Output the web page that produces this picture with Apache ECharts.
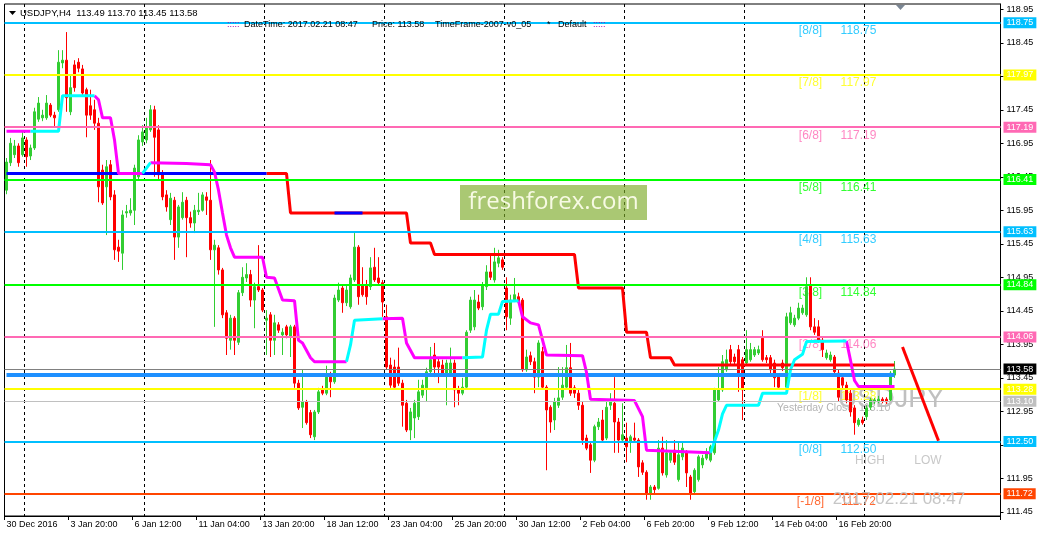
<!DOCTYPE html>
<html><head><meta charset="utf-8">
<script src="https://cdn.jsdelivr.net/npm/echarts@6/dist/echarts.min.js"></script>
<style>html,body{margin:0;padding:0;background:#fff}#c{width:1043px;height:539px}</style>
</head><body><div id="c"></div>
<script>
// ---- data (USDJPY H4) ----
const open = [116.25,116.66,116.78,116.91,116.78,117.00,116.76,116.88,117.31,117.33,
117.33,117.52,117.37,117.45,118.15,118.19,117.42,118.12,118.16,118.06,
117.75,117.51,117.45,117.25,116.55,116.30,116.63,116.18,115.40,115.31,
115.91,115.91,115.95,116.45,116.97,117.00,117.15,117.45,117.15,116.48,
116.18,115.81,116.10,115.55,115.84,116.10,115.84,115.76,115.93,115.95,
116.15,116.10,115.36,115.39,115.06,114.42,114.01,114.34,113.98,114.72,
114.94,114.99,114.61,114.81,114.76,114.31,114.39,114.01,114.24,114.09,
114.21,114.06,114.21,113.37,113.01,113.09,112.93,112.57,112.94,113.28,
113.22,113.46,113.39,114.61,114.79,114.57,114.51,114.91,115.40,114.84,
114.84,114.81,115.10,114.94,114.87,114.36,113.64,113.61,113.61,113.37,
113.07,112.67,112.85,112.87,113.19,113.30,113.54,113.79,113.69,113.64,
113.52,113.52,113.67,113.27,113.22,113.31,114.16,114.21,114.58,114.51,
114.81,115.03,114.91,115.16,115.21,114.79,114.34,114.61,114.66,114.61,
113.57,113.78,113.69,113.46,113.84,113.31,113.01,112.82,113.04,113.16,
113.31,113.60,113.30,113.22,113.04,112.55,112.45,112.22,112.72,112.82,
112.55,113.04,113.07,112.79,112.52,112.55,112.49,112.55,112.52,112.18,
112.04,111.73,111.82,111.80,112.40,112.00,112.22,112.37,111.93,112.27,
112.33,111.97,111.75,111.93,112.15,112.25,112.22,112.33,113.12,113.27,
113.57,113.87,113.76,113.87,113.72,113.67,113.72,113.79,113.82,114.04,
113.75,113.75,113.67,113.46,113.67,113.31,114.27,114.24,114.34,114.42,
114.39,114.84,114.21,114.21,114.01,113.75,113.72,113.76,113.52,113.45,
113.34,113.22,113.00,112.75,112.82,112.87,113.01,113.09,113.10,113.13,
113.13,113.12,113.49];
const close = [116.67,116.95,116.91,116.66,117.03,116.75,116.88,117.42,117.55,117.37,
117.55,117.37,117.33,118.16,118.19,117.63,117.78,117.78,118.07,117.70,
117.37,117.37,117.25,116.30,116.06,116.60,116.15,115.36,115.34,115.88,
115.93,115.95,116.58,117.00,117.12,117.18,117.45,117.04,116.48,116.15,
116.00,116.13,115.55,116.00,116.07,115.84,115.76,115.95,115.95,116.18,
116.10,115.36,115.43,115.06,114.39,114.04,114.34,114.01,114.72,114.95,
114.99,114.61,114.81,114.76,114.46,114.34,114.01,114.27,114.16,114.13,
114.09,114.21,113.37,113.00,113.09,112.78,112.60,112.94,113.24,113.22,
113.46,113.39,114.64,114.76,114.57,114.76,114.94,115.40,114.66,114.69,
114.66,115.09,114.91,114.87,114.58,113.61,113.34,113.31,113.37,113.04,
112.67,112.94,113.07,113.24,113.34,113.54,113.72,113.61,113.61,113.52,
113.67,113.67,113.27,113.22,113.31,114.13,114.61,114.61,114.49,114.84,
115.03,114.95,115.18,115.24,115.10,114.36,114.61,114.69,114.58,113.57,
113.76,113.69,113.46,113.97,113.31,112.97,112.79,113.09,113.15,113.34,
113.60,113.22,113.22,113.04,112.52,112.40,112.22,112.72,112.79,112.52,
113.01,113.12,112.79,112.52,112.60,112.42,112.57,112.52,112.12,112.04,
111.73,111.82,111.78,112.40,112.03,112.33,112.33,112.19,112.30,112.40,
112.03,111.73,112.07,112.27,112.25,112.34,112.42,113.27,113.27,113.69,
113.72,113.69,113.69,113.49,113.27,113.87,113.87,113.87,113.87,113.72,
113.72,113.57,113.45,113.31,113.60,114.36,114.42,114.34,114.49,114.49,
114.81,114.21,114.13,114.01,113.87,113.82,113.79,113.54,113.16,113.34,
113.12,112.94,112.78,112.82,112.78,113.00,113.12,113.12,113.13,113.10,
113.09,113.52,113.58];
const high = [116.73,117.03,117.00,116.95,117.12,117.04,116.93,117.48,117.64,117.45,
117.67,117.55,117.42,118.34,118.34,118.61,117.97,118.19,118.22,118.12,
117.78,117.75,117.60,117.33,116.63,116.70,116.70,116.25,115.51,115.95,
116.03,116.13,116.63,117.07,117.22,117.33,117.52,117.51,117.22,116.55,
116.25,116.21,116.15,116.03,116.22,116.15,115.93,116.03,116.21,116.22,
116.22,116.70,115.51,115.43,115.09,114.46,114.39,114.37,114.76,115.10,
115.16,115.06,114.87,115.43,114.79,114.46,114.43,114.39,114.28,114.19,
114.24,114.24,114.24,113.42,113.57,113.12,112.97,112.97,113.30,113.33,
113.63,113.54,114.69,114.87,114.84,114.84,114.99,115.61,115.43,115.10,
114.91,115.25,115.39,115.25,114.91,114.54,113.75,113.72,113.90,113.42,
113.12,113.00,113.12,113.42,113.42,113.60,113.91,113.97,113.75,113.72,
113.72,113.90,113.72,113.33,113.45,114.16,114.66,114.76,114.69,114.88,
115.13,115.28,115.39,115.36,115.25,114.95,114.69,114.94,114.72,114.64,
113.87,113.84,113.75,114.01,113.91,113.34,113.04,113.15,113.61,113.61,
113.94,113.97,113.34,113.27,113.09,112.60,112.49,112.75,112.85,112.97,
113.12,113.22,113.46,112.85,113.07,112.78,112.60,112.78,112.55,112.22,
112.07,111.85,111.85,112.52,112.57,112.52,112.37,112.52,112.49,112.49,
112.37,112.00,112.10,112.30,112.30,112.40,112.45,113.30,113.61,113.79,
113.87,113.94,113.81,113.94,113.76,114.16,113.97,113.91,113.93,114.16,
113.79,113.79,113.72,113.51,113.72,114.42,114.51,114.39,114.57,114.54,
114.95,114.95,114.34,114.31,114.06,113.87,113.84,113.79,113.57,113.49,
113.39,113.27,113.04,112.85,112.87,113.04,113.15,113.15,113.18,113.16,
113.16,113.55,113.70];
const low = [116.19,116.61,116.73,116.60,116.75,116.60,116.70,116.85,117.27,117.28,
117.30,117.34,117.19,117.42,118.07,117.42,117.37,117.72,118.01,117.67,
117.04,117.30,117.15,116.07,116.03,115.58,116.10,115.21,115.18,115.06,
115.84,115.87,115.73,116.40,116.91,116.95,117.12,116.45,116.40,116.10,
115.93,115.73,115.21,115.39,115.81,115.25,115.69,115.61,115.88,115.93,
115.88,115.21,114.21,114.99,114.34,113.79,113.87,113.79,113.94,114.67,
114.88,114.51,114.19,114.73,114.43,113.79,113.76,113.79,114.12,113.79,
114.04,113.76,113.30,112.97,112.70,112.75,112.55,112.52,112.91,113.19,
113.19,113.16,113.36,114.58,114.42,114.52,114.48,114.88,114.54,114.66,
114.54,114.76,114.88,114.84,114.36,113.57,113.30,113.27,113.33,112.72,
112.64,112.52,112.55,112.82,113.15,113.09,113.49,113.46,113.37,113.48,
113.04,113.48,113.01,113.04,113.19,113.27,114.12,114.16,114.46,114.46,
114.76,114.91,114.87,115.10,115.06,114.16,114.24,114.58,114.54,113.54,
113.54,113.64,113.22,113.31,113.27,112.07,112.63,112.67,113.00,113.12,
113.27,113.18,113.15,112.97,112.45,112.37,112.03,112.19,112.67,112.48,
112.52,112.97,112.33,112.33,112.49,112.19,112.33,112.48,111.97,112.00,
111.63,111.63,111.73,111.78,111.99,111.96,112.18,112.15,111.90,112.22,
111.82,111.63,111.70,111.90,112.10,112.22,112.19,112.30,113.09,113.24,
113.54,113.64,113.64,113.24,112.82,113.63,113.69,113.76,113.79,113.69,
113.67,113.52,113.31,113.28,113.55,113.28,114.24,114.21,114.31,114.39,
114.36,114.16,114.09,113.97,113.76,113.72,113.69,113.49,113.09,113.27,
113.07,112.87,112.60,112.72,112.75,112.82,112.97,113.06,113.07,113.07,
113.06,113.09,113.45];

const slotCount = 249;                       // bars + right shift
const tickIndex = [0,16,32,48,64,80,96,112,128,144,160,176,192,208];
const tickLabels = ['30 Dec 2016','3 Jan 20:00','6 Jan 12:00','11 Jan 04:00','13 Jan 20:00','18 Jan 12:00',
  '23 Jan 04:00','25 Jan 20:00','30 Jan 12:00','2 Feb 04:00','6 Feb 20:00','9 Feb 12:00','14 Feb 04:00','16 Feb 20:00'];
const gridIndex = [5,35,65,95,125,155,185,215];
const priceTicks = [111.45,111.95,112.45,112.95,113.45,113.95,114.45,114.95,115.45,115.95,116.45,116.95,117.45,117.95,118.45,118.95];

const levelNames = ['[8/8]','[7/8]','[6/8]','[5/8]','[4/8]','[3/8]','[2/8]','[1/8]','[0/8]','[-1/8]'];
const levelValues = [118.75,117.97,117.19,116.41,115.63,114.84,114.06,113.28,112.50,111.72];
const currentPrice = 113.58;
const yesterdayClose = 113.10;
const pivotLevel = 113.49;

// stop line (bar index, price)
const stopRed = [[65,116.50],[70,116.50],[71,115.91],[100,115.91],[101,115.46],[106,115.46],[107,115.29],
  [142,115.29],[143,114.79],[154,114.79],[155,114.13],[160,114.13],[161,113.75],[166,113.75],[167,113.64],[222,113.64]];
const stopBlue = [[0,116.50],[65,116.50],[66,'-'],[82,115.91],[89,115.91]];
// trend line: falling (magenta) and rising (cyan) parts
const trendFall = [[0,117.13],[6,117.13],[7,'-'],
  [22,117.66],[23,117.60],[24,117.33],[26,117.33],[27,117.00],[28,116.50],[34,116.50],[35,'-'],
  [36,116.66],[45,116.65],[51,116.63],[52,116.52],[53,116.25],[54,115.91],[55,115.58],[56,115.39],[57,115.25],
  [64,115.25],[65,114.95],[67,114.94],[69,114.61],[72,114.60],[73,114.01],[74,113.97],[76,113.75],[77,113.69],[85,113.69],[86,'-'],
  [94,114.33],[99,114.34],[100,113.97],[102,113.75],[114,113.75],[115,'-'],
  [128,114.60],[129,114.36],[131,114.27],[133,114.24],[135,113.79],[144,113.78],[145,113.53],[146,113.13],
  [157,113.11],[159,112.87],[160,112.37],[176,112.33],[177,'-'],
  [210,114.00],[211,113.71],[212,113.41],[213,113.32],[222,113.32]];
const trendRise = [[6,117.13],[13,117.13],[14,117.66],[22,117.66],[23,'-'],
  [34,116.50],[35,116.58],[36,116.66],[37,'-'],
  [85,113.69],[86,113.94],[87,114.31],[94,114.33],[95,'-'],
  [114,113.75],[119,113.76],[120,114.16],[121,114.40],[123,114.40],[124,114.59],[128,114.60],[129,'-'],
  [176,112.33],[177,112.50],[178,112.67],[179,112.91],[180,113.04],[188,113.04],[189,113.22],[195,113.22],
  [196,113.57],[197,113.72],[199,113.80],[200,113.99],[210,114.00]];
const drawnTrend = [[224,113.91],[233,112.51]];

// ---- styles ----
const levelColors = ['#00BFFF','#FFFF00','#FF69B4','#00FF00','#00BFFF','#00FF00','#FF69B4','#FFFF00','#00BFFF','#FF4500'];
const UI = 'Liberation Sans';

const categories = Array.from({length: slotCount}, (_, i) => String(i));
const labelAt = {};
tickIndex.forEach((t, k) => { labelAt[t] = tickLabels[k]; });

const boxLabel = (txt, bg) => ({show: true, position: 'end', distance: 3, formatter: txt, color: '#fff',
  backgroundColor: bg, padding: [1, 3, 0, 3], fontSize: 9, fontFamily: UI, lineHeight: 10});
const levelLines = levelValues.map((v, k) => ({
  yAxis: v,
  lineStyle: {color: levelColors[k], width: 2, type: 'solid'},
  label: boxLabel(v.toFixed(2), levelColors[k])
}));
levelLines.push({yAxis: currentPrice, lineStyle: {color: '#808080', width: 1, type: 'solid'},
  label: boxLabel(currentPrice.toFixed(2), '#000')});
levelLines.push({yAxis: yesterdayClose, lineStyle: {color: '#C0C0C0', width: 1, type: 'solid'},
  label: boxLabel(yesterdayClose.toFixed(2), '#C0C0C0')});

const levelTexts = [];
levelValues.forEach((v, k) => {
  levelTexts.push({value: [201, v], label: {formatter: levelNames[k], color: levelColors[k]}});
  levelTexts.push({value: [213, v], label: {formatter: v.toFixed(2), color: levelColors[k]}});
});

const chart = echarts.init(document.getElementById('c'), null, {renderer: 'canvas'});
chart.setOption({
  animation: false,
  backgroundColor: '#fff',
  grid: {left: 4.5, right: 42.5, top: 4, bottom: 23, show: true, borderColor: '#000', borderWidth: 1,
    containLabel: false, outerBoundsMode: 'none'},
  xAxis: {
    type: 'category', data: categories, boundaryGap: true,
    axisLine: {show: true, lineStyle: {color: '#000', width: 1}},
    axisTick: {show: true, interval: (i) => (i in labelAt), length: 4, lineStyle: {color: '#000'}},
    axisLabel: {show: true, interval: 0, formatter: (v, i) => labelAt[i] || '', align: 'left',
      color: '#000', fontSize: 9, fontFamily: UI, margin: 4},
    splitLine: {show: true, interval: (i) => gridIndex.indexOf(i) >= 0,
      lineStyle: {color: '#000', type: [3, 3], width: 1}}
  },
  yAxis: {
    type: 'value', position: 'right', min: 111.387, max: 119.029, scale: true,
    axisLine: {show: true, lineStyle: {color: '#000'}},
    axisTick: {show: true, customValues: priceTicks, length: 3, lineStyle: {color: '#000'}},
    axisLabel: {show: true, customValues: priceTicks, formatter: (v) => v.toFixed(2), color: '#000',
      fontSize: 9, fontFamily: UI, margin: 6},
    splitLine: {show: false}
  },
  series: [
    {type: 'scatter', z: 1, symbolSize: 1, itemStyle: {color: 'rgba(0,0,0,0)'}, silent: true,
      label: {show: true, position: 'inside', offset: [0, 8], fontSize: 12, fontFamily: UI},
      data: levelTexts},
    {type: 'candlestick', z: 2, barWidth: 2,
      itemStyle: {color: '#32CD32', color0: '#FF0000', borderColor: '#32CD32', borderColor0: '#FF0000',
        borderColorDoji: '#32CD32', borderWidth: 1},
      data: open.map((o, i) => [o, close[i], low[i], high[i]])},
    {type: 'line', z: 3, symbol: 'none', silent: true, data: [[0, pivotLevel], [222, pivotLevel]],
      lineStyle: {color: '#1E90FF', width: 4}},
    {type: 'line', z: 4, symbol: 'none', silent: true, data: stopRed, lineStyle: {color: '#FF0000', width: 3}},
    {type: 'line', z: 4, symbol: 'none', silent: true, data: stopBlue, connectNulls: false, lineStyle: {color: '#0000FF', width: 3}},
    {type: 'line', z: 4, symbol: 'none', silent: true, data: trendFall, connectNulls: false, lineStyle: {color: '#FF00FF', width: 3}},
    {type: 'line', z: 4, symbol: 'none', silent: true, data: trendRise, connectNulls: false, lineStyle: {color: '#00FFFF', width: 3}},
    {type: 'line', z: 5, symbol: 'none', silent: true, data: [],
      markLine: {symbol: 'none', silent: true, animation: false, data: levelLines}},
    {type: 'line', z: 6, symbol: 'none', silent: true, data: drawnTrend, lineStyle: {color: '#FF0000', width: 3}}
  ],
  graphic: [
    {type: 'polygon', z: 10, shape: {points: [[9, 11], [16, 11], [12.5, 15]]}, style: {fill: '#000'}},
    {type: 'polygon', z: 10, shape: {points: [[896, 5], [905, 5], [900.5, 10]]}, style: {fill: '#7A8694'}},
    {type: 'text', z: 10, x: 20, y: 13, style: {text: 'USDJPY,H4  113.49 113.70 113.45 113.58', fill: '#000', fontSize: 9.5, fontFamily: UI, verticalAlign: 'middle'}},
    {type: 'text', z: 10, x: 227, y: 25, style: {text: ':::::', fill: '#A000A0', fontSize: 9, fontFamily: UI, verticalAlign: 'middle'}},
    {type: 'text', z: 10, x: 244, y: 25, style: {text: 'DateTime: 2017.02.21 08:47', fill: '#000', fontSize: 9, fontFamily: UI, verticalAlign: 'middle'}},
    {type: 'text', z: 10, x: 372, y: 25, style: {text: 'Price: 113.58', fill: '#000', fontSize: 9, fontFamily: UI, verticalAlign: 'middle'}},
    {type: 'text', z: 10, x: 435, y: 25, style: {text: 'TimeFrame-2007-v0_05', fill: '#000', fontSize: 9, fontFamily: UI, verticalAlign: 'middle'}},
    {type: 'text', z: 10, x: 547, y: 25, style: {text: '*', fill: '#000', fontSize: 9, fontFamily: UI, verticalAlign: 'middle'}},
    {type: 'text', z: 10, x: 558, y: 25, style: {text: 'Default', fill: '#000', fontSize: 9, fontFamily: UI, verticalAlign: 'middle'}},
    {type: 'text', z: 10, x: 593, y: 25, style: {text: ':::::', fill: '#A000A0', fontSize: 9, fontFamily: UI, verticalAlign: 'middle'}},
    {type: 'rect', z: 100, shape: {x: 460, y: 185, width: 187, height: 35}, style: {fill: 'rgba(125,170,40,0.65)'}},
    {type: 'text', z: 101, x: 553.5, y: 202, style: {text: 'freshforex.com', fill: 'rgba(255,255,240,0.9)', fontSize: 24, fontFamily: 'Open Sans', align: 'center', verticalAlign: 'middle'}},
    {type: 'text', z: 0, x: 777, y: 408, style: {text: 'Yesterday Close: 113.10', fill: '#B4B4B4', fontSize: 10.5, fontFamily: UI, verticalAlign: 'middle'}},
    {type: 'text', z: 0, x: 891, y: 400, style: {text: 'USDJPY', fill: '#C0C0C0', fontSize: 27, fontFamily: UI, align: 'center', verticalAlign: 'middle'}},
    {type: 'text', z: 10, x: 870, y: 461, style: {text: 'HIGH', fill: '#C8C8C8', fontSize: 12, fontFamily: UI, align: 'center', verticalAlign: 'middle'}},
    {type: 'text', z: 10, x: 928, y: 461, style: {text: 'LOW', fill: '#C8C8C8', fontSize: 12, fontFamily: UI, align: 'center', verticalAlign: 'middle'}},
    {type: 'text', z: 10, x: 899, y: 499, style: {text: '2017.02.21 08:47', fill: 'rgba(192,192,192,0.9)', fontSize: 17, fontFamily: UI, align: 'center', verticalAlign: 'middle'}}
  ]
});
</script>
</body></html>
